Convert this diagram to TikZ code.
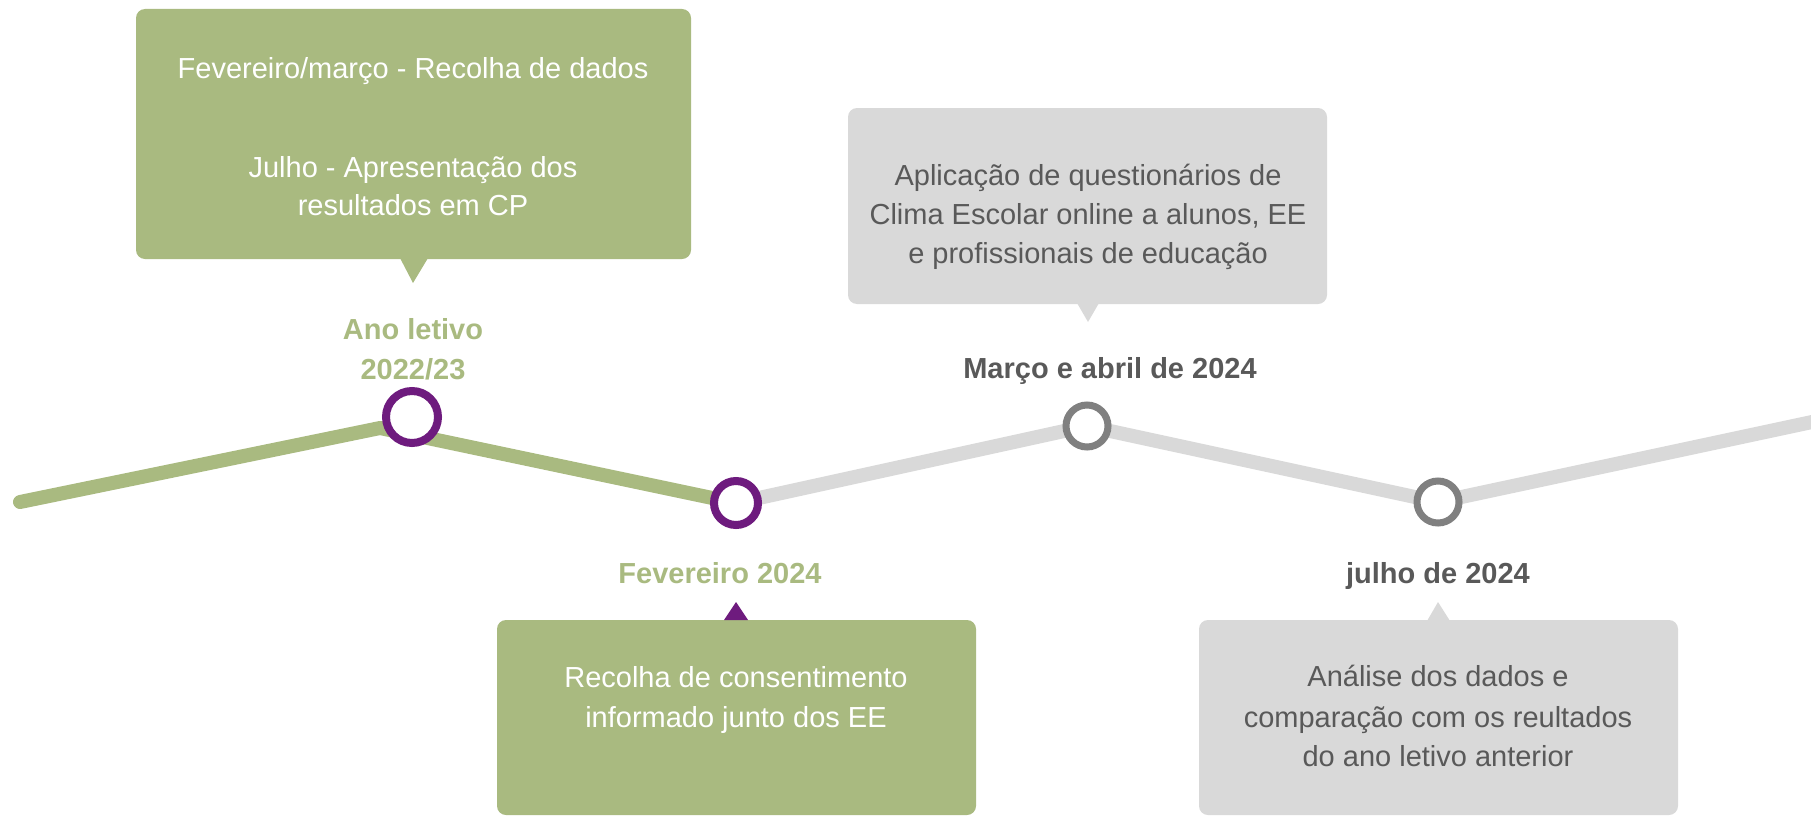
\documentclass[tikz,border=0pt]{standalone}
\usepackage{fontspec}
\setmainfont{Liberation Sans}
\definecolor{tlgreen}{RGB}{169,186,128}
\definecolor{tlpurple}{RGB}{110,27,126}
\definecolor{tlgrayline}{RGB}{217,217,217}
\definecolor{tlgraycirc}{RGB}{128,128,128}
\definecolor{tltext}{RGB}{89,89,89}
\begin{document}
\begin{tikzpicture}[x=1pt,y=-1pt,
  boxtext/.style={font=\fontsize{29}{35}\selectfont, inner sep=0pt, anchor=base},
  datelabel/.style={font=\bfseries\fontsize{29}{35}\selectfont, inner sep=0pt, anchor=base},
  ring/.style={circle, draw, fill=white, inner sep=0pt},
  track/.style={line width=14pt, line cap=round, line join=round}]
\useasboundingbox (0,0) rectangle (1811,816);
\clip (0,0) rectangle (1811,816);
% track coordinates
\coordinate (s) at (20,502);
\coordinate (v1) at (380,428);
\coordinate (e) at (1840,416);
\coordinate (p1) at (412,417);
\coordinate (p2) at (736,503);
\coordinate (p3) at (1087,426);
\coordinate (p4) at (1438,502);
% track
\draw[track, tlgreen] (s) -- (v1) -- (p2);
\draw[track, tlgrayline] (p2) -- (p3) -- (p4) -- (e);
% rings
\node[ring, draw=tlpurple, line width=8pt, minimum size=52pt] (c1) at (p1) {};
\node[ring, draw=tlpurple, line width=8pt, minimum size=44pt] (c2) at (p2) {};
\node[ring, draw=tlgraycirc, line width=7pt, minimum size=42pt] (c3) at (p3) {};
\node[ring, draw=tlgraycirc, line width=7pt, minimum size=42pt] (c4) at (p4) {};
% boxes
\fill[tlgreen, rounded corners=9pt] (136,9) rectangle (691,259);
\fill[tlgreen] (400,258) -- (428,258) -- (413,283) -- cycle;
\fill[tlgrayline, rounded corners=9pt] (848,108) rectangle (1327,304);
\fill[tlgrayline] (1077,303) -- (1099,303) -- (1088,322) -- cycle;
\fill[tlgreen, rounded corners=9pt] (497,620) rectangle (976,815);
\fill[tlpurple] (724,620) -- (748,620) -- (736,602) -- cycle;
\fill[tlgrayline, rounded corners=9pt] (1199,620) rectangle (1678,815);
\fill[tlgrayline] (1427,621) -- (1450,621) -- (1438,602) -- cycle;
% box texts
\node[boxtext, white] (t1a) at (413,78) {Fevereiro/março - Recolha de dados};
\node[boxtext, white] (t1b) at (413,177) {Julho - Apresentação dos};
\node[boxtext, white] (t1c) at (413,215) {resultados em CP};
\node[boxtext, tltext] (t2a) at (1088,185) {Aplicação de questionários de};
\node[boxtext, tltext] (t2b) at (1088,224) {Clima Escolar online a alunos, EE};
\node[boxtext, tltext] (t2c) at (1088,263) {e profissionais de educação};
\node[boxtext, white] (t3a) at (736,687) {Recolha de consentimento};
\node[boxtext, white] (t3b) at (736,727) {informado junto dos EE};
\node[boxtext, tltext] (t4a) at (1438,686) {Análise dos dados e};
\node[boxtext, tltext] (t4b) at (1438,727) {comparação com os reultados};
\node[boxtext, tltext] (t4c) at (1438,766) {do ano letivo anterior};
% date labels
\node[datelabel, tlgreen] (l1a) at (413,339) {Ano letivo};
\node[datelabel, tlgreen] (l1b) at (413,379) {2022/23};
\node[datelabel, tltext] (l3) at (1110,378) {Março e abril de 2024};
\node[datelabel, tlgreen] (l2) at (720,583) {Fevereiro 2024};
\node[datelabel, tltext] (l4) at (1438,583) {julho de 2024};
\end{tikzpicture}
\end{document}
